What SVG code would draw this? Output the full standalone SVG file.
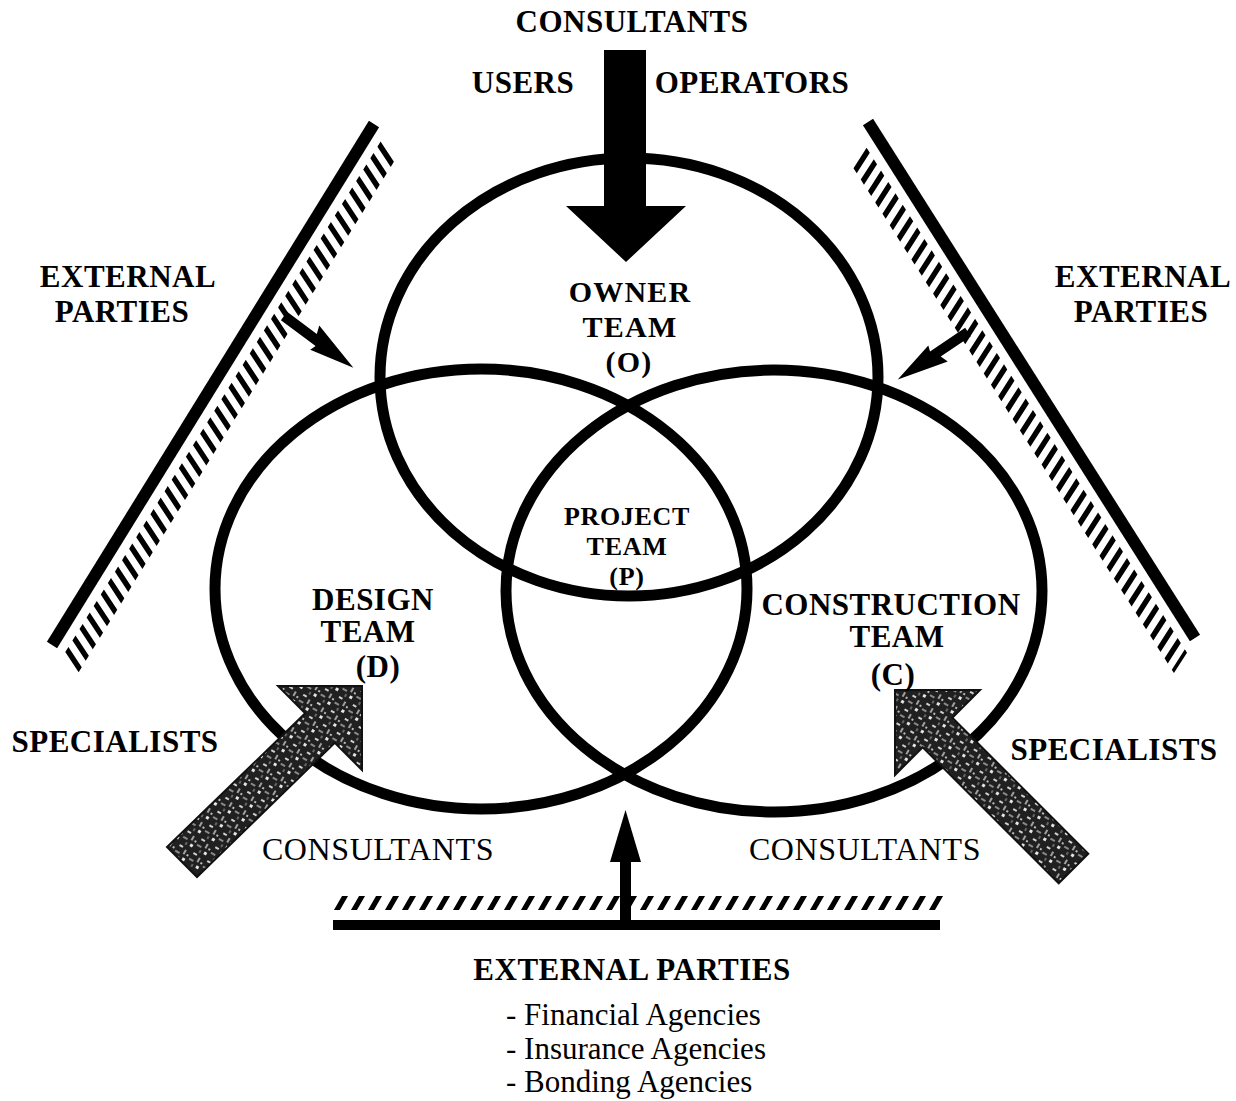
<svg xmlns="http://www.w3.org/2000/svg" width="1236" height="1101" viewBox="0 0 1236 1101">
<style>
  text { font-family: "Liberation Serif", "Times New Roman", serif; fill: #000; text-anchor: middle; }
  .b { font-weight: bold; font-size: 31px; letter-spacing: 0.5px; }
  .r { font-weight: normal; font-size: 32px; letter-spacing: 0.6px; }
  .m { font-weight: bold; font-size: 30px; letter-spacing: 1.2px; }
  .s { font-weight: bold; font-size: 26px; letter-spacing: 0.7px; }
  .l { font-weight: normal; font-size: 31px; text-anchor: start; }
  .team { fill: none; stroke: #000; stroke-width: 11; }
  .bar { stroke: #000; stroke-width: 12; stroke-linecap: butt; }
  .hatch { stroke: #000; stroke-width: 22; stroke-dasharray: 6 7.5; fill: none; }
  .hatchB { stroke: #000; stroke-width: 14; stroke-dasharray: 6 11; fill: none; }
  .solid { fill: #000; }
  .grain { fill: url(#grain); stroke: #111; stroke-width: 2; }
</style>
<defs>
  <pattern id="grain" width="16" height="16" patternUnits="userSpaceOnUse" patternTransform="rotate(30)">
    <rect width="16" height="16" fill="#202020"/>
    <rect x="2" y="1" width="4" height="2" fill="#d0d0d0"/>
    <rect x="9" y="3" width="2" height="5" fill="#a0a0a0"/>
    <rect x="1" y="8" width="5" height="2" fill="#8a8a8a"/>
    <rect x="11" y="11" width="3" height="3" fill="#e6e6e6"/>
    <rect x="6" y="12" width="2" height="3" fill="#666"/>
    <rect x="13" y="6" width="2" height="2" fill="#bdbdbd"/>
  </pattern>
  <path id="smallArrow" d="M0,-5 L36,-5 L33,-13 L84,0 L40,11 L42,5 L0,5 Z" fill="#000"/>
</defs>

<rect width="1236" height="1101" fill="#fff"/>

<!-- external party bars -->
<g id="ext-left">
  <line class="bar" x1="52" y1="645" x2="374" y2="124"/>
  <g transform="translate(52,645) rotate(-58.3)">
    <line class="hatch" x1="8" y1="26" x2="612" y2="26" transform="skewX(-25)"/>
  </g>
</g>
<g id="ext-right">
  <line class="bar" x1="868" y1="122" x2="1195" y2="638"/>
  <g transform="translate(868,122) rotate(57.6)">
    <line class="hatch" x1="14" y1="26" x2="612" y2="26" transform="skewX(25)"/>
  </g>
</g>
<g id="ext-bottom">
  <line class="bar" x1="333" y1="925" x2="940" y2="925" style="stroke-width:10"/>
  <g transform="translate(0,903)">
    <line class="hatchB" x1="338" y1="0" x2="950" y2="0" transform="skewX(-30)"/>
  </g>
</g>

<!-- team ellipses -->
<g id="owner-team"><ellipse class="team" cx="629" cy="377" rx="249" ry="219"/></g>
<g id="design-team"><ellipse class="team" cx="481" cy="589" rx="266" ry="220"/></g>
<g id="construction-team"><ellipse class="team" cx="774" cy="591" rx="268" ry="221"/></g>

<!-- connectors -->
<g id="connectors">
  <polygon class="solid" points="604,50 646,50 646,206 686,206 626,262 566,206 604,206"/>
  <rect x="620" y="858" width="11" height="67" fill="#000"/>
  <polygon class="solid" points="610,862 641,862 625.5,810"/>
  <use href="#smallArrow" transform="translate(284,316) rotate(36.7) scale(1.03)"/>
  <use href="#smallArrow" transform="translate(968,332) rotate(145.9) scale(1.01)"/>
  <polygon class="grain" points="362,686 362,770 334.8,742.8 197,877 167,847 305.2,713.2 278,686"/>
  <polygon class="grain" points="895,690 980,690 952.3,717.7 1088.3,853.7 1058.7,883.3 922.7,747.3 895,775"/>
</g>

<!-- labels -->
<g id="labels">
  <text class="b" x="632" y="32">CONSULTANTS</text>
  <text class="b" x="523" y="93">USERS</text>
  <text class="b" x="752" y="93">OPERATORS</text>
  <text class="b" x="128" y="287">EXTERNAL</text>
  <text class="b" x="122" y="322">PARTIES</text>
  <text class="b" x="1143" y="287">EXTERNAL</text>
  <text class="b" x="1141" y="322">PARTIES</text>
  <text class="m" x="630" y="302">OWNER</text>
  <text class="m" x="630" y="337">TEAM</text>
  <text class="m" x="629" y="372">(O)</text>
  <text class="s" x="627" y="525">PROJECT</text>
  <text class="s" x="627" y="555">TEAM</text>
  <text class="s" x="627" y="585">(P)</text>
  <text class="b" x="373" y="610">DESIGN</text>
  <text class="b" x="368" y="642">TEAM</text>
  <text class="b" x="378" y="677">(D)</text>
  <text class="b" x="891" y="615">CONSTRUCTION</text>
  <text class="b" x="897" y="647">TEAM</text>
  <text class="b" x="893" y="685">(C)</text>
  <text class="b" x="115" y="752">SPECIALISTS</text>
  <text class="b" x="1114" y="760">SPECIALISTS</text>
  <text class="r" x="378" y="860">CONSULTANTS</text>
  <text class="r" x="865" y="860">CONSULTANTS</text>
  <text class="b" x="632" y="980">EXTERNAL PARTIES</text>
  <text class="l" x="506" y="1025">- Financial Agencies</text>
  <text class="l" x="506" y="1059">- Insurance Agencies</text>
  <text class="l" x="506" y="1092">- Bonding Agencies</text>
</g>
</svg>
